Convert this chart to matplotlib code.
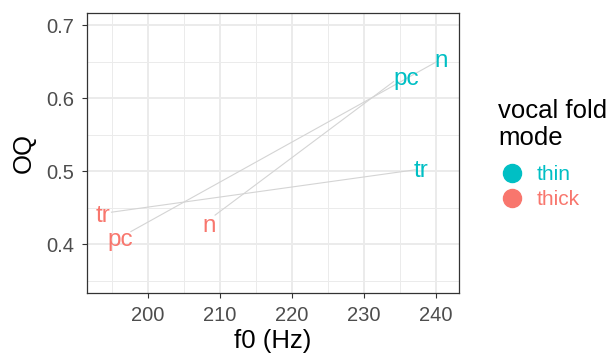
import matplotlib
matplotlib.use("Agg")
import matplotlib.pyplot as plt
from matplotlib.lines import Line2D
from matplotlib.ticker import MultipleLocator

plt.rcParams['font.family'] = ['Liberation Sans', 'DejaVu Sans']

# label positions (f0, OQ) per vocal fold mode
labels = ['tr', 'pc', 'n']
thick_f0 = [193.7, 196.1, 208.5]
thick_oq = [0.4309, 0.3977, 0.4172]
thin_f0 = [237.9, 235.8, 240.7]
thin_oq = [0.4925, 0.6186, 0.6430]

# connecting lines (thick point -> thin point)
seg_f0_start = [194.9, 197.6, 209.3]
seg_oq_start = [0.444, 0.4175, 0.440]
seg_f0_end = [237.1, 240.1, 234.1]
seg_oq_end = [0.502, 0.650, 0.6227]

modes = ['thin', 'thick']
mode_colors = ['#00BFC4', '#F8766D']

W, H = 613, 356
fig = plt.figure(figsize=(W / 100, H / 100), dpi=100)
ax = fig.add_axes([87 / W, 1 - 293.3 / H, (458.7 - 87) / W, (293.3 - 12.7) / H])

for x0, y0, x1, y1 in zip(seg_f0_start, seg_oq_start, seg_f0_end, seg_oq_end):
    ax.plot([x0, x1], [y0, y1], color='#D4D4D4', lw=0.8, zorder=2)

for f0s, oqs, col in [(thin_f0, thin_oq, mode_colors[0]), (thick_f0, thick_oq, mode_colors[1])]:
    for lab, x, y in zip(labels, f0s, oqs):
        ax.text(x, y, lab, color=col, fontsize=17.5, ha='center', va='baseline', zorder=3)

ax.set_xlim(191.5, 243.15)
ax.set_ylim(0.333, 0.717)
ax.xaxis.set_major_locator(MultipleLocator(10))
ax.xaxis.set_minor_locator(MultipleLocator(5))
ax.yaxis.set_major_locator(MultipleLocator(0.1))
ax.yaxis.set_minor_locator(MultipleLocator(0.05))
ax.grid(which='major', color='#EBEBEB', lw=1.4, zorder=0)
ax.grid(which='minor', color='#EBEBEB', lw=0.7, zorder=0)
ax.set_axisbelow(True)
for s in ax.spines.values():
    s.set_color('#333333')
    s.set_linewidth(0.9)
ax.tick_params(which='major', length=3.6, width=0.8, color='#333333',
               labelsize=14.5, labelcolor='#4D4D4D', pad=5.5)
ax.tick_params(which='minor', length=0)

ax.set_xlabel('f0 (Hz)', fontsize=18.5)
ax.set_ylabel('OQ', fontsize=18.5)
ax.xaxis.set_label_coords(0.5, -0.128)
ax.yaxis.set_label_coords(-0.137, 0.5)

# legend
fig.text(498 / W, 1 - 118.3 / H, 'vocal fold', fontsize=18.5, va='baseline', ha='left')
fig.text(498 / W, 1 - 145 / H, 'mode', fontsize=18.5, va='baseline', ha='left')
for i, (m, c) in enumerate(zip(modes, mode_colors)):
    cy = 173.3 + 25 * i
    fig.add_artist(Line2D([511.7 / W], [1 - cy / H], marker='o', markersize=13,
                          color=c, lw=0, transform=fig.transFigure))
    fig.text(536.5 / W, 1 - (cy + 6.5) / H, m, color=c, fontsize=15,
             va='baseline', ha='left')

fig.savefig('out.png', dpi=100)
